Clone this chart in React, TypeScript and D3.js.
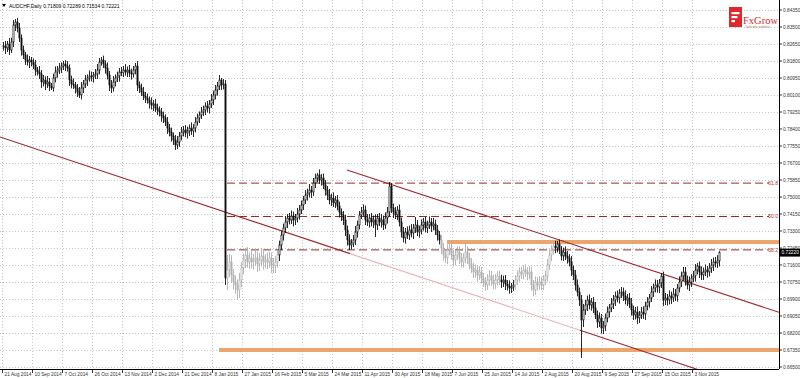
import React from "react";
import * as d3 from "d3";

// ---- DATA (prices in 1/10000 units) ----
const firstOpen = 8250;
const closes = [
  8255, 8245, 8265, 8235, 8275, 8360, 8375, 8345, 8295, 8235,
  8210, 8185, 8175, 8185, 8175, 8160, 8135, 8125, 8115, 8075,
  8085, 8065, 8075, 8055, 8045, 8095, 8125, 8135, 8145, 8155,
  8165, 8155, 8145, 8085, 8065, 8060, 8045, 8025, 8010, 8045,
  8065, 8085, 8095, 8105, 8100, 8110, 8115, 8135, 8175, 8185,
  8165, 8145, 8110, 8060, 8045, 8075, 8095, 8105, 8125, 8122,
  8135, 8125, 8135, 8120, 8115, 8135, 8155, 8060, 8045, 8025,
  8005, 7995, 7985, 7970, 7960, 7965, 7945, 7935, 7925, 7905,
  7895, 7875, 7845, 7825, 7805, 7785, 7760, 7775, 7805, 7825,
  7835, 7820, 7830, 7845, 7830, 7845, 7875, 7895, 7910, 7925,
  7935, 7955, 7945, 7965, 7985, 8010, 8035, 8055, 8085, 8060,
  8065, 7095, 7135, 7175, 7110, 7075, 7060, 7035, 7085, 7145,
  7185, 7210, 7175, 7195, 7175, 7185, 7195, 7165, 7185, 7205,
  7175, 7185, 7175, 7195, 7160, 7155, 7175, 7210, 7260, 7310,
  7345, 7375, 7395, 7385, 7405, 7385, 7395, 7415, 7435, 7460,
  7485, 7510, 7520, 7535, 7525, 7570, 7595, 7610, 7585, 7595,
  7560, 7535, 7510, 7485, 7495, 7470, 7485, 7455, 7425, 7410,
  7385, 7335, 7285, 7260, 7270, 7285, 7325, 7360, 7410, 7425,
  7435, 7385, 7375, 7395, 7375, 7385, 7360, 7395, 7375, 7385,
  7360, 7395, 7425, 7555, 7445, 7425, 7410, 7435, 7375, 7325,
  7295, 7325, 7310, 7335, 7320, 7345, 7360, 7325, 7335, 7360,
  7375, 7345, 7360, 7375, 7355, 7365, 7335, 7310, 7285, 7245,
  7210, 7195, 7235, 7245, 7210, 7185, 7210, 7225, 7195, 7175,
  7195, 7225, 7195, 7165, 7145, 7125, 7135, 7110, 7125, 7095,
  7075, 7060, 7085, 7105, 7085, 7065, 7085, 7105, 7085, 7075,
  7085, 7065, 7055, 7045, 7050, 7060, 7085, 7105, 7125, 7115,
  7135, 7125, 7115, 7125, 7060, 7035, 7075, 7060, 7075, 7060,
  7085, 7105, 7160, 7210, 7235, 7255, 7245, 7265, 7235, 7205,
  7225, 7205, 7195, 7175, 7135, 7110, 7060, 7025, 6985, 6885,
  6935, 6960, 6985, 6960, 6975, 6945, 6910, 6875, 6895, 6845,
  6855, 6895, 6925, 6945, 6965, 6985, 7005, 6995, 7020, 7025,
  7005, 6985, 6995, 6965, 6935, 6910, 6925, 6895, 6910, 6925,
  6915, 6955, 6975, 6995, 7025, 7045, 7060, 7050, 7070, 7105,
  6985, 6995, 6985, 7005, 6995, 7015, 7005, 7045, 7075, 7105,
  7125, 7085, 7060, 7075, 7095, 7105, 7135, 7155, 7125, 7110,
  7125, 7135, 7125, 7145, 7160, 7175, 7170, 7181, 7222,
];
const upWick = [
  20, 25, 15, 30, 22, 25, 15, 20, 25, 18,
  22, 15, 28, 20, 15, 18, 25, 15, 30, 20,
  25, 18, 30, 20, 15, 22, 28, 20, 25, 18,
  15, 20, 25, 18, 22, 28, 15, 20, 25, 30,
  20, 25, 18, 28, 22, 15, 25, 30, 20, 15,
  22, 18, 28, 20, 25, 30, 18, 22, 20, 25,
  20, 30, 18, 25, 22, 20, 15, 25, 18, 22,
  25, 20, 22, 18, 28, 20, 25, 22, 18, 20,
  22, 18, 25, 20, 22, 18, 25, 30, 20, 25,
  20, 25, 22, 18, 28, 20, 25, 22, 18, 25,
  22, 18, 25, 20, 30, 22, 25, 20, 25, 10,
  25, 20, 75, 40, 35, 30, 32, 28, 35, 30,
  32, 35, 40, 28, 38, 30, 45, 32, 35, 40,
  35, 30, 38, 32, 28, 35, 30, 25, 22, 20,
  22, 30, 20, 25, 28, 22, 20, 30, 25, 22,
  20, 25, 22, 30, 20, 25, 22, 10, 28, 20,
  22, 25, 20, 30, 22, 28, 20, 25, 22, 18,
  20, 25, 22, 28, 20, 25, 30, 22, 20, 25,
  28, 22, 30, 20, 25, 22, 28, 20, 25, 30,
  22, 28, 25, 20, 15, 22, 25, 20, 28, 22,
  25, 20, 28, 22, 30, 20, 40, 25, 22, 28,
  20, 25, 22, 28, 20, 30, 22, 25, 20, 25,
  25, 30, 28, 20, 32, 26, 24, 30, 28, 25,
  24, 50, 28, 25, 30, 26, 28, 24, 30, 25,
  26, 24, 30, 28, 25, 27, 30, 24, 28, 26,
  22, 25, 20, 28, 20, 25, 25, 28, 24, 26,
  25, 28, 24, 30, 26, 25, 28, 24, 30, 26,
  24, 26, 30, 28, 25, 24, 26, 15, 22, 20,
  22, 28, 25, 20, 30, 22, 25, 28, 22, 25,
  30, 25, 22, 28, 20, 25, 30, 22, 28, 20,
  25, 22, 28, 20, 30, 25, 22, 28, 20, 25,
  22, 28, 20, 25, 30, 22, 25, 28, 20, 25,
  28, 22, 25, 20, 30, 22, 28, 25, 20, 15,
  22, 25, 20, 28, 22, 30, 25, 20, 28, 22,
  25, 25, 22, 28, 20, 25, 30, 15, 22, 28,
  22, 28, 20, 25, 30, 22, 25, 28, 7,
];
const downWick = [
  18, 30, 20, 25, 15, 25, 30, 22, 20, 28,
  20, 25, 18, 30, 22, 20, 28, 18, 25, 30,
  22, 30, 20, 25, 10, 18, 22, 28, 20, 25,
  20, 25, 18, 30, 22, 20, 28, 25, 15, 22,
  25, 20, 30, 18, 22, 28, 20, 25, 22, 18,
  20, 28, 22, 30, 25, 18, 22, 20, 28, 18,
  22, 18, 25, 20, 28, 18, 22, 30, 25, 20,
  20, 25, 18, 28, 22, 30, 20, 25, 22, 28,
  25, 20, 30, 22, 28, 25, 25, 20, 25, 22,
  22, 20, 28, 25, 20, 30, 22, 18, 25, 20,
  20, 25, 22, 28, 20, 25, 22, 28, 20, 25,
  22, 35, 60, 35, 40, 38, 45, 50, 40, 35,
  30, 40, 28, 35, 32, 38, 30, 40, 35, 32,
  38, 32, 35, 30, 40, 35, 35, 28, 30, 25,
  28, 25, 30, 22, 20, 32, 25, 22, 28, 20,
  25, 20, 28, 22, 30, 20, 25, 22, 20, 28,
  20, 28, 25, 22, 30, 20, 25, 22, 28, 30,
  25, 30, 28, 25, 22, 20, 25, 28, 22, 20,
  22, 25, 20, 28, 22, 30, 60, 25, 20, 28,
  25, 20, 28, 22, 25, 30, 20, 25, 22, 28,
  22, 28, 20, 25, 22, 30, 25, 20, 28, 22,
  28, 22, 25, 20, 30, 22, 25, 28, 22, 30,
  28, 25, 30, 26, 24, 32, 28, 25, 30, 27,
  28, 25, 30, 27, 25, 30, 28, 32, 25, 28,
  25, 30, 24, 28, 30, 26, 25, 28, 24, 30,
  25, 30, 22, 28, 25, 20, 24, 26, 28, 25,
  28, 24, 30, 26, 28, 32, 25, 28, 24, 26,
  26, 24, 28, 25, 30, 24, 26, 22, 20, 22,
  25, 20, 28, 22, 30, 25, 28, 22, 30, 190,
  35, 25, 30, 22, 28, 25, 20, 30, 25, 28,
  30, 25, 22, 28, 20, 25, 30, 22, 28, 25,
  25, 22, 30, 20, 28, 25, 22, 30, 25, 20,
  25, 30, 22, 28, 20, 25, 22, 28, 30, 25,
  30, 25, 28, 22, 30, 20, 25, 28, 22, 25,
  25, 28, 22, 30, 25, 20, 28, 22, 30, 25,
  25, 20, 28, 22, 25, 30, 22, 25, 28,
];

const dateLabels = [
  "21 Aug 2014", "10 Sep 2014", "7 Oct 2014", "26 Oct 2014", "13 Nov 2014",
  "2 Dec 2014", "21 Dec 2014", "8 Jan 2015", "27 Jan 2015", "16 Feb 2015",
  "5 Mar 2015", "24 Mar 2015", "11 Apr 2015", "30 Apr 2015", "18 May 2015",
  "7 Jun 2015", "25 Jun 2015", "14 Jul 2015", "2 Aug 2015", "20 Aug 2015",
  "9 Sep 2015", "27 Sep 2015", "15 Oct 2015", "3 Nov 2015",
];
const barsPerDateLabel = 15;

const priceTicks = [
  0.8435, 0.835, 0.8265, 0.818, 0.8095, 0.801, 0.7925, 0.784, 0.7755, 0.767,
  0.7585, 0.75, 0.7415, 0.733, 0.7245, 0.716, 0.7075, 0.699, 0.6905, 0.682,
  0.6735, 0.665,
];

const fibLevels = [0.618, 0.5, 0.382];
const fibHighRange = [100, 112];
const fibLowRange = [280, 300];

const resistanceLevel = { price: 0.7275, fromBar: 222 };
const supportLevel = { price: 0.6735, fromBar: 108 };

const lowerTrend = [
  [0, 0.7795],
  [340, 0.6662],
];
const upperTrend = [
  [172, 0.7635],
  [387.5, 0.6925],
];

const headerText = "AUDCHF,Daily  0.71809 0.72289 0.71534 0.72221";

// ---- style constants ----
const grayRanges = [
  [112, 137],
  [219, 248],
  [256, 275],
];
const RED = "#9e2a2e";
const ORANGE = "#eaa66c";
const GRID = "#c4c4c4";
const FONT = "'Liberation Sans', Arial, sans-serif";

export default function App() {
  const PL = 0,
    PR = 779,
    PT = 0,
    PB = 369;
  const n = closes.length;
  const x = d3.scaleLinear().domain([0, n - 1]).range([3, 3 + 2 * (n - 1)]);
  const y = d3.scaleLinear().domain([0.665, 0.8435]).range([367, 10]);

  const bars = closes.map((c, i) => {
    const o = i === 0 ? firstOpen : closes[i - 1];
    const h = Math.max(o, c) + upWick[i];
    const l = Math.min(o, c) - downWick[i];
    return { i, o: o / 10000, c: c / 10000, h: h / 10000, l: l / 10000 };
  });
  const isGray = (i: number) => grayRanges.some(([a, b]) => i >= a && i <= b);

  const fibHigh = d3.max(bars.slice(fibHighRange[0], fibHighRange[1]), (b) => b.h)!;
  const fibLow = d3.min(bars.slice(fibLowRange[0], fibLowRange[1]), (b) => b.l)!;
  const fibStartX = x(111) + 2;

  const trendPrice = (pts: number[][], i: number) => {
    const [[i1, p1], [i2, p2]] = pts;
    return p1 + ((p2 - p1) * (i - i1)) / (i2 - i1);
  };
  const seg = (pts: number[][], a: number, b: number, color: string, key: string) => (
    <line
      key={key}
      x1={x(a)}
      y1={y(trendPrice(pts, a))}
      x2={x(b)}
      y2={y(trendPrice(pts, b))}
      stroke={color}
      strokeWidth={1.1}
    />
  );
  const xInv = (px: number) => x.invert(px);

  const last = bars[bars.length - 1];

  return (
    <svg
      width={800}
      height={378}
      style={{ position: "fixed", left: 0, top: 0, background: "#fff", fontFamily: FONT }}
    >
      <defs>
        <clipPath id="plot">
          <rect x={PL} y={PT} width={PR - PL} height={PB - PT} />
        </clipPath>
      </defs>
      <rect x={0} y={0} width={800} height={378} fill="#fff" />

      {/* grid */}
      {priceTicks.map((p, k) => (
        <line key={"hg" + k} x1={PL} x2={PR} y1={Math.round(y(p)) + 0.5} y2={Math.round(y(p)) + 0.5}
          stroke={GRID} strokeWidth={1} strokeDasharray="1,2" />
      ))}
      {dateLabels.map((d, k) => {
        const gx = Math.round(x(k * barsPerDateLabel)) - 0.5;
        return (
          <line key={"vg" + k} x1={gx} x2={gx} y1={PT} y2={PB} stroke={GRID} strokeWidth={1} strokeDasharray="1,2" />
        );
      })}

      <g clipPath="url(#plot)">
        {/* horizontal support/resistance */}
        <line x1={x(resistanceLevel.fromBar)} x2={PR} y1={y(resistanceLevel.price)} y2={y(resistanceLevel.price)}
          stroke={ORANGE} strokeWidth={4} />
        <line x1={x(supportLevel.fromBar)} x2={PR} y1={y(supportLevel.price)} y2={y(supportLevel.price)}
          stroke={ORANGE} strokeWidth={4} />

        {/* fibonacci */}
        {fibLevels.map((f) => {
          const py = y(fibLow + (fibHigh - fibLow) * f);
          return (
            <g key={"fib" + f}>
              <line x1={fibStartX} x2={769} y1={py} y2={py} stroke="#8e2c2c" strokeWidth={1} strokeDasharray="8,4" />
              <text x={778} y={py + 1.8} textAnchor="end" fontSize={5} fill="#b03030">
                {(f * 100).toFixed(1)}
              </text>
            </g>
          );
        })}

        {/* trend lines */}
        {seg(lowerTrend, xInv(PL), 173.5, RED, "lt1")}
        {seg(lowerTrend, 173.5, 288.5, "#e8b4b4", "lt2")}
        {seg(lowerTrend, 288.5, 360, RED, "lt3")}
        {seg(upperTrend, upperTrend[0][0], xInv(PR), RED, "ut")}

        {/* candles */}
        {bars.map((b) => {
          const cx = Math.round(x(b.i)) + 0.5;
          const gray = isGray(b.i);
          const col = gray ? "#b0b0b0" : "#111";
          const bull = b.c >= b.o;
          const top = y(Math.max(b.o, b.c));
          const bot = y(Math.min(b.o, b.c));
          const hgt = Math.max(1, bot - top);
          return (
            <g key={b.i}>
              <line x1={cx} x2={cx} y1={y(b.h)} y2={y(b.l)} stroke={col} strokeWidth={0.9} />
              <rect x={cx - 0.6} y={top} width={1.2} height={hgt}
                fill={bull ? "#fff" : col} stroke={col} strokeWidth={0.6} />
            </g>
          );
        })}
      </g>

      {/* axes */}
      <line x1={PR + 0.5} x2={PR + 0.5} y1={0} y2={PB} stroke="#000" strokeWidth={1} />
      <line x1={PL} x2={PR} y1={PB + 0.5} y2={PB + 0.5} stroke="#000" strokeWidth={1} />
      {priceTicks.map((p, k) => (
        <g key={"pt" + k}>
          <line x1={PR} x2={PR + 3} y1={y(p)} y2={y(p)} stroke="#000" strokeWidth={0.8} />
          <text x={PR + 4} y={y(p) + 1.7} fontSize={4.8} fill="#333">
            {p.toFixed(5)}
          </text>
        </g>
      ))}
      {dateLabels.map((d, k) => {
        const gx = Math.round(x(k * barsPerDateLabel)) - 0.5;
        return (
          <g key={"dt" + k}>
            <line x1={gx} x2={gx} y1={PB} y2={PB + 4} stroke="#000" strokeWidth={0.8} />
            <text x={gx + 2} y={376} fontSize={4.8} fill="#333">
              {d}
            </text>
          </g>
        );
      })}

      {/* current price box */}
      <rect x={PR + 1} y={y(last.c) - 4} width={21} height={8} fill="#000" />
      <text x={PR + 2.5} y={y(last.c) + 1.8} fontSize={4.8} fill="#fff">
        {last.c.toFixed(5)}
      </text>

      {/* header */}
      <path d="M2,4 L6,4 L4,7 Z" fill="#000" />
      <text x={9} y={7.5} fontSize={5} fill="#000">
        {headerText}
      </text>

      {/* logo */}
      <rect x={729} y={7} width={13} height={20} fill="#e3262c" />
      <rect x={731.5} y={12} width={8} height={2.2} fill="#fff" />
      <rect x={731.5} y={16} width={6} height={2.2} fill="#fff" />
      <rect x={731.5} y={20} width={3.5} height={2.2} fill="#fff" />
      <text x={743} y={24} fontSize={10.5} fill="#d8282e" fontFamily="'Liberation Serif', 'DejaVu Serif', serif">
        FxGrow
      </text>
      <text x={745} y={28} fontSize={2.6} fill="#b07070">
        Trade with confidence
      </text>
    </svg>
  );
}
